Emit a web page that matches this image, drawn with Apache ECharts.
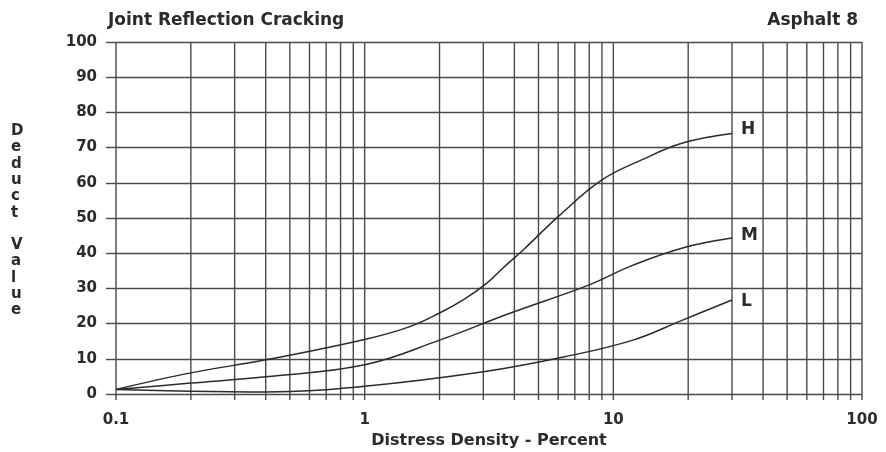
<!DOCTYPE html>
<html>
<head>
<meta charset="utf-8">
<title>Joint Reflection Cracking</title>
<script src="https://cdn.jsdelivr.net/npm/echarts@6/dist/echarts.min.js"></script>
<style>
  html, body { margin: 0; padding: 0; background: #fff; }
  #mainArea { width: 886px; height: 452px; }
</style>
</head>
<body>
<div id="mainArea"></div>
<script>
// distress density (%), with deduct values
var hDensity = [0.1, 0.2, 0.4, 1, 1.5, 2, 2.5, 3.1, 3.6, 4.35, 6, 9, 13, 19, 30];
var hDeduct  = [1.3, 6, 9.7, 15.5, 19, 23, 26.8, 31.5, 35.8, 41, 50.4, 60.8, 66.5, 71.3, 74];

var mDensity = [0.1, 0.2, 0.4, 1, 2, 3.86, 8, 12, 19, 30];
var mDeduct  = [1.3, 3.1, 4.9, 8.3, 15.3, 23, 31, 36.6, 41.5, 44.3];

var lDensity = [0.1, 0.2, 0.4, 1, 3, 6.3, 12, 19, 30];
var lDeduct  = [1.3, 0.8, 0.6, 2.2, 6.3, 10.5, 15.3, 21, 26.7];

// vertical grid lines of the log paper
var gridDensity = [0.1, 0.2, 0.3, 0.4, 0.5, 0.6, 0.7, 0.8, 0.9,
                   1, 2, 3, 4, 5, 6, 7, 8, 9,
                   10, 20, 30, 40, 50, 60, 70, 80, 90, 100];

var yLetters = 'Deduct Value'.split('');

function pairs(xs, ys) {
	var d = [];
	for (var i = 0; i < xs.length; i++) {
		d.push([xs[i], ys[i]]);
	}
	return d;
}

var font = 'DejaVu Sans';
var ink = '#2b2b2b';
var gridInk = '#4a4a4a';

function curve(name, xs, ys, dy) {
	return {
		name: name,
		type: 'line',
		smooth: 0.4,
		symbol: 'none',
		data: pairs(xs, ys),
		lineStyle: { color: ink, width: 1.5 },
		endLabel: {
			show: true,
			formatter: name,
			distance: 9,
			offset: [0, dy],
			color: ink,
			fontFamily: font,
			fontWeight: 'bold',
			fontSize: 17
		},
		z: 5
	};
}

var option = {
	animation: false,
	backgroundColor: '#fff',
	grid: { left: 116, right: 24, top: 42, bottom: 58, outerBoundsMode: 'none' },
	graphic: [
		{
			type: 'text', left: 108, top: 12,
			style: { text: 'Joint Reflection Cracking', fill: ink, font: 'bold 17px "' + font + '"' }
		},
		{
			type: 'text', right: 28, top: 12,
			style: { text: 'Asphalt 8', fill: ink, font: 'bold 17px "' + font + '"' }
		},
		{
			type: 'text', left: 11, top: 123,
			style: {
				text: yLetters.join('\n'), fill: ink, align: 'center',
				font: 'bold 15px "' + font + '"', lineHeight: 16.3
			}
		}
	],
	xAxis: {
		type: 'log',
		logBase: 10,
		min: 0.1,
		max: 100,
		name: 'Distress Density - Percent',
		nameLocation: 'middle',
		nameGap: 38,
		nameTextStyle: { color: ink, fontFamily: font, fontWeight: 'bold', fontSize: 16 },
		axisLine: { show: false },
		axisTick: { show: false },
		splitLine: { show: false },
		axisLabel: {
			margin: 19,
			color: ink, fontFamily: font, fontWeight: 'bold', fontSize: 15,
			formatter: function (v) { return String(+v.toPrecision(3)); }
		}
	},
	yAxis: {
		type: 'value',
		min: 0,
		max: 100,
		interval: 10,
		axisLine: { show: false },
		axisTick: { show: true, length: 10, lineStyle: { color: gridInk, width: 1.4 } },
		splitLine: { show: true, lineStyle: { color: gridInk, width: 1.4 } },
		axisLabel: { margin: 19, color: ink, fontFamily: font, fontWeight: 'bold', fontSize: 15 }
	},
	series: [
		{
			type: 'custom',
			silent: true,
			data: gridDensity.map(function (x) { return [x, 0]; }),
			encode: { x: 0, y: 1 },
			renderItem: function (params, api) {
				var x = api.value(0);
				var top = api.coord([x, 100]);
				var bottom = api.coord([x, 0]);
				return {
					type: 'line',
					shape: { x1: top[0], y1: top[1], x2: bottom[0], y2: bottom[1] + 6 },
					style: { stroke: gridInk, lineWidth: 1.4 }
				};
			},
			z: 1
		},
		curve('H', hDensity, hDeduct, -4),
		curve('M', mDensity, mDeduct, -2),
		curve('L', lDensity, lDeduct, 2)
	]
};

var myChart = echarts.init(document.getElementById('mainArea'));
myChart.setOption(option);
</script>
</body>
</html>
